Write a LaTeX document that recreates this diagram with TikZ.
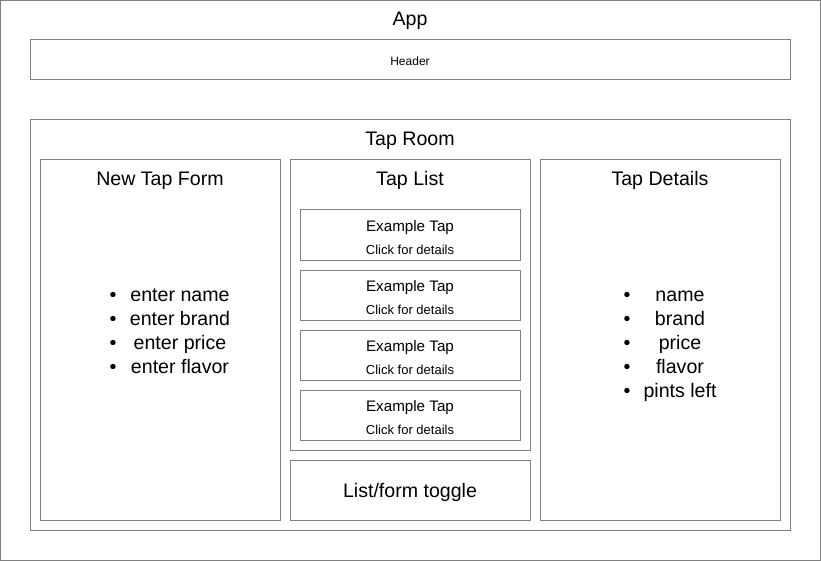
\documentclass[tikz,border=0pt]{standalone}
\usepackage{fontspec}
\setmainfont{Liberation Sans}
\definecolor{edge}{RGB}{128,128,128}
\begin{document}
\begin{tikzpicture}[x=1pt,y=-1pt,
  box/.style={draw=edge,line width=1pt,fill=white},
  txt/.style={inner sep=0pt,text height=0.72em,text depth=0pt},
  big/.style={txt,yshift=-3.5pt,font=\fontsize{19.6}{22}\selectfont},
  mid/.style={txt,yshift=-2.5pt,font=\fontsize{15.2}{17}\selectfont},
  small/.style={txt,yshift=-2pt,font=\fontsize{13}{14}\selectfont},
  tiny/.style={txt,yshift=-2pt,font=\fontsize{12}{13}\selectfont}]
\useasboundingbox (0,0) rectangle (821,561);
\draw[box] (0.5,0.5) rectangle (820.5,560.5);
\node[big] (app) at (410,18) {App};
\draw[box] (30,40) rectangle (790,80);
\node[tiny] (header) at (410,60) {Header};
\draw[box] (30,120) rectangle (790,530);
\node[big] (taproom) at (410,138) {Tap Room};
% New Tap Form
\draw[box] (40,160) rectangle (280,520);
\node[big] (newform) at (160,178) {New Tap Form};
\foreach \t [count=\i] in {enter name,enter brand,enter price,enter flavor}{
  \node[big] (nf\i) at (180,{270+24*\i}) {\t};
  \node[big] (nfb\i) at (113,{270+24*\i}) {•};
}
% Tap List
\draw[box] (290,160) rectangle (530,450);
\node[big] (taplist) at (410,178) {Tap List};
\foreach \yy [count=\i] in {210,270,330,390}{
  \draw[box] (300,\yy) rectangle (520,\yy+50);
  \node[mid] (ex\i) at (410,\yy+15) {Example Tap};
  \node[small] (cl\i) at (410,\yy+39) {Click for details};
}
\draw[box] (290,460) rectangle (530,520);
\node[big] (toggle) at (410,490) {List/form toggle};
% Tap Details
\draw[box] (540,160) rectangle (780,520);
\node[big] (details) at (660,178) {Tap Details};
\foreach \t [count=\i] in {name,brand,price,flavor,pints left}{
  \node[big] (td\i) at (680,{270+24*\i}) {\t};
  \node[big] (tdb\i) at (627,{270+24*\i}) {•};
}
\end{tikzpicture}
\end{document}
